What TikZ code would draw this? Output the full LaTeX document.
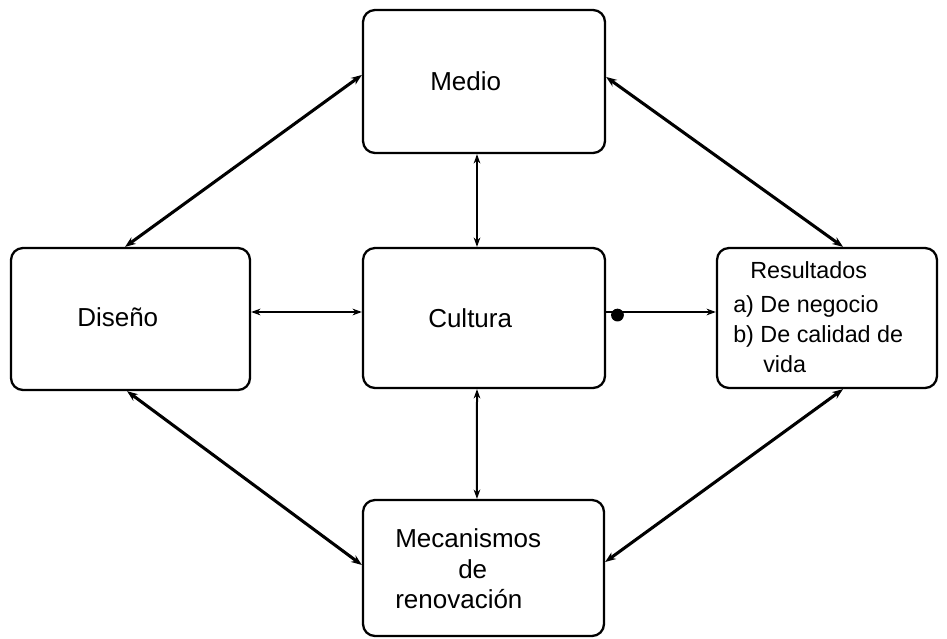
\documentclass[tikz,border=0pt]{standalone}
\usepackage{fontspec}
\setmainfont{Liberation Sans}
\usetikzlibrary{arrows.meta}
\begin{document}
\begin{tikzpicture}[x=0.75pt,y=-0.75pt,
  box/.style={draw, line width=1.7pt, rounded corners=9pt, inner sep=0pt},
  lbl/.style={anchor=base west, inner sep=0pt, font=\fontsize{19.5}{23}\selectfont},
  slbl/.style={anchor=base west, inner sep=0pt, font=\fontsize{17.5}{21}\selectfont},
  thick link/.style={line width=2.3pt, {Stealth[length=8pt,width=6pt]}-{Stealth[length=8pt,width=6pt]}},
  thin link/.style={line width=1.5pt, {Stealth[length=7pt,width=5pt]}-{Stealth[length=7pt,width=5pt]}}]
\useasboundingbox (0,0) rectangle (947,639);

% boxes
\node[box, minimum width=181.5pt, minimum height=107.25pt] (medio) at (484,81.5) {};
\node[box, minimum width=179.25pt, minimum height=106.5pt] (diseno) at (130.5,319) {};
\node[box, minimum width=181.5pt, minimum height=105pt] (cultura) at (484,318) {};
\node[box, minimum width=165pt, minimum height=105pt] (result) at (827,318) {};
\node[box, minimum width=180.75pt, minimum height=102pt] (mecan) at (483.5,568) {};

% labels
\node[lbl] (tmedio) at (430,90) {Medio};
\node[lbl] (tdiseno) at (77,326) {Diseño};
\node[lbl] (tcultura) at (428,327) {Cultura};
\node[lbl] (tmec1) at (395,547) {Mecanismos};
\node[lbl] (tmec2) at (458,578) {de};
\node[lbl] (tmec3) at (395,608) {renovación};
\node[slbl] (tres1) at (750,278) {Resultados};
\node[slbl] (tres2) at (733,312) {a) De negocio};
\node[slbl] (tres3) at (733,342) {b) De calidad de};
\node[slbl] (tres4) at (763,372) {vida};

% diagonal links
\draw[thick link] ([xshift=-4.1pt]diseno.north) -- ([yshift=4.9pt]medio.west);
\draw[thick link] ([yshift=3.4pt]medio.east) -- ([xshift=12pt]result.north);
\draw[thick link] ([xshift=-2.6pt]diseno.south) -- ([yshift=2.25pt]mecan.west);
\draw[thick link] ([xshift=12pt]result.south) -- ([yshift=4.5pt]mecan.east);

% vertical links
\draw[thin link] ([xshift=-5.25pt]medio.south) -- ([xshift=-5.25pt]cultura.north);
\draw[thin link] ([xshift=-5.25pt]cultura.south) -- ([xshift=-4.9pt]mecan.north);

% horizontal links
\draw[thin link] ([yshift=5.25pt]diseno.east) -- ([yshift=4.5pt]cultura.west);
\draw[line width=1.5pt, -{Stealth[length=7pt,width=5pt]}] ([yshift=4.5pt]cultura.east) -- ([yshift=4.5pt]result.west);
\coordinate (dot) at ([xshift=8.5pt,yshift=2.2pt]cultura.east);
\fill (dot) circle (4.8pt);
\end{tikzpicture}
\end{document}
